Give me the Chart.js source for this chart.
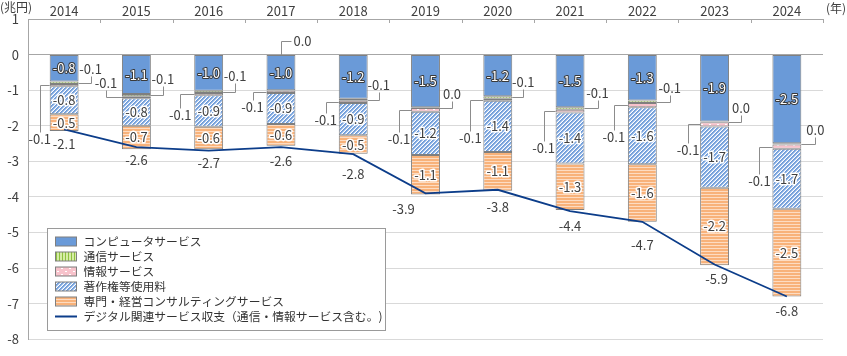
<!DOCTYPE html>
<html><head><meta charset="utf-8">
<script src="https://cdn.jsdelivr.net/npm/chart.js@4.4.1/dist/chart.umd.min.js"></script>
<style>html,body{margin:0;padding:0;background:#fff;}</style>
</head><body>
<canvas id="c" width="847" height="356"></canvas>
<script>
// ---- data ----
const years = ['2014','2015','2016','2017','2018','2019','2020','2021','2022','2023','2024'];
const computerServices       = [-0.76,-1.11,-1.02,-1.00,-1.24,-1.48,-1.17,-1.48,-1.29,-1.88,-2.49];
const communicationServices  = [-0.07,-0.06,-0.06,-0.02,-0.06,-0.02,-0.07,-0.07,-0.07,-0.02,-0.04];
const informationServices    = [-0.06,-0.06,-0.06,-0.06,-0.06,-0.11,-0.06,-0.08,-0.12,-0.12,-0.12];
const copyrightRoyalties     = [-0.79,-0.77,-0.89,-0.87,-0.91,-1.21,-1.44,-1.43,-1.60,-1.72,-1.68];
const professionalConsulting = [-0.47,-0.66,-0.63,-0.61,-0.52,-1.11,-1.09,-1.31,-1.62,-2.18,-2.47];
const digitalBalance         = [-2.1,-2.6,-2.7,-2.6,-2.8,-3.9,-3.8,-4.4,-4.7,-5.9,-6.8];
const yTickValues = [1,0,-1,-2,-3,-4,-5,-6,-7,-8];
const seriesNames = ['コンピュータサービス','通信サービス','情報サービス','著作権等使用料','専門・経営コンサルティングサービス','デジタル関連サービス収支（通信・情報サービス含む。)'];

// ---- label placement (pixel offsets, style only) ----
const commCallout = [[12,-14],[12,-16],[12,-16],[21,-14,'top'],[11,-15],[12,-14],[11,-15],[13,-15],[13,-14],[12,-14],[14,-14]];
const infoCallout = [[-10,54],[-16,-14],[-14,21],[-14,15],[-13,18],[-12,29],[-13,38],[-12,37],[-14,32],[-12,26],[-13,34]];
const lineLabelOffset = [[0,15],[0,13],[0,12],[0,14],[0,20],[-22,16],[0,17],[0,15],[0,23],[2,15],[0,15]];

const FONT = '"Noto Sans CJK JP","Noto Sans",sans-serif';
const TXT = '#404040';
const GRAYLINE = '#a6a6a6';
const LINECOLOR = '#0c3d8a';

const canvas = document.getElementById('c');
const mctx = canvas.getContext('2d');
function tile(w,h,draw){const c=document.createElement('canvas');c.width=w;c.height=h;const g=c.getContext('2d');draw(g);return mctx.createPattern(c,'repeat');}
const blueFill = '#6a9ad8';
const commPat = tile(3,1,g=>{g.fillStyle='#d6eca6';g.fillRect(0,0,3,1);g.fillStyle='#8fc13f';g.fillRect(2,0,1,1);});
const infoPat = tile(8,6,g=>{g.fillStyle='#f7c2cb';g.fillRect(0,0,8,6);g.fillStyle='#ffffff';g.fillRect(1,1,2,1);g.fillRect(5,4,2,1);});
const copyCols = ['#6f9bd8','#7ea8de','#b9cff0','#ffffff'];
const copyPat = tile(4,4,g=>{for(let x=0;x<4;x++)for(let y=0;y<4;y++){g.fillStyle=copyCols[(x+y)%4];g.fillRect(x,y,1,1);}});
const profPat = tile(1,3,g=>{g.fillStyle='#f8b27a';g.fillRect(0,0,1,2);g.fillStyle='#fddcc2';g.fillRect(0,2,1,1);});
const fills = [blueFill, commPat, infoPat, copyPat, profPat];

const fmt = v => { const r = Math.sign(v)*Math.round(Math.abs(v)*10+1e-9)/10; return (r===0?0:r).toFixed(1); };

function barDs(label, data, fill){
  return {type:'bar', label, data, backgroundColor:fill, borderColor:'#7f7f7f', borderWidth:1,
    borderSkipped:false, stack:'s', order:1, categoryPercentage:1, barPercentage:0.4};
}

const overlay = {
  id:'overlay',
  afterDatasetsDraw(chart){
    const ctx = chart.ctx, area = chart.chartArea;
    ctx.save();
    const n = years.length, cw = (area.right-area.left)/n;
    ctx.strokeStyle = GRAYLINE; ctx.lineWidth = 1; ctx.beginPath();
    for(let i=0;i<=n;i++){const x=Math.round(area.left+i*cw)+0.5; ctx.moveTo(x,area.top); ctx.lineTo(x,area.top+4);}
    ctx.stroke();

    ctx.font = '13px '+FONT; ctx.textAlign='center'; ctx.textBaseline='middle'; ctx.lineJoin='round';
    [0,3,4].forEach(di=>{
      const meta = chart.getDatasetMeta(di);
      meta.data.forEach((el,i)=>{
        const t = fmt(chart.data.datasets[di].data[i]);
        const cx = el.x, cy = (el.y+el.base)/2;
        if(di===0){ctx.lineWidth=2;ctx.strokeStyle='#3a3a3a';ctx.strokeText(t,cx,cy);ctx.fillStyle='#ffffff';ctx.fillText(t,cx,cy);}
        else{ctx.lineWidth=3;ctx.strokeStyle='#ffffff';ctx.strokeText(t,cx,cy);ctx.fillStyle=TXT;ctx.fillText(t,cx,cy);}
      });
    });
    const mTop = chart.getDatasetMeta(0), mC = chart.getDatasetMeta(1), mI = chart.getDatasetMeta(2);
    ctx.strokeStyle='#8c8c8c'; ctx.lineWidth=1;
    years.forEach((y,i)=>{
      {
        const el = mC.data[i]; const [dx,dy,mode] = commCallout[i];
        const t = fmt(communicationServices[i]); const tw = ctx.measureText(t).width;
        ctx.beginPath();
        let lx, ly;
        if(mode==='top'){
          const ax = Math.round(el.x)+0.5, ay = mTop.data[i].base;
          lx = ax+dx; ly = ay+dy;
          ctx.moveTo(ax,ay); ctx.lineTo(ax,Math.round(ly)+0.5); ctx.lineTo(lx-tw/2-2,Math.round(ly)+0.5);
        } else {
          const ax = el.x+el.width/2, ay = Math.round((el.y+el.base)/2)+0.5;
          lx = ax+dx; ly = ay+dy; const ex = Math.round(lx)+0.5;
          ctx.moveTo(ax,ay); ctx.lineTo(ex,ay); ctx.lineTo(ex, ly+(dy<0?7:-7));
        }
        ctx.stroke();
        ctx.fillStyle=TXT; ctx.fillText(t,lx,ly);
      }
      {
        const el = mI.data[i]; const [dx,dy] = infoCallout[i];
        const t = fmt(informationServices[i]);
        const ax = el.x-el.width/2, ay = Math.round((el.y+el.base)/2)+0.5;
        const lx = ax+dx, ly = ay+dy; const ex = Math.round(lx)+0.5;
        ctx.beginPath(); ctx.moveTo(ax,ay); ctx.lineTo(ex,ay); ctx.lineTo(ex, ly+(dy<0?7:-7)); ctx.stroke();
        ctx.fillStyle=TXT; ctx.fillText(t,lx,ly);
      }
    });
    const mL = chart.getDatasetMeta(5);
    mL.data.forEach((pt,i)=>{
      const [dx,dy] = lineLabelOffset[i];
      ctx.fillStyle=TXT; ctx.fillText(fmt(digitalBalance[i]), pt.x+dx, pt.y+dy);
    });
    ctx.restore();
  },
  afterDraw(chart){
    const ctx = chart.ctx;
    ctx.save();
    ctx.fillStyle=TXT; ctx.font='12px '+FONT; ctx.textBaseline='middle';
    ctx.textAlign='left'; ctx.fillText('(兆円)',0,7);
    ctx.textAlign='right'; ctx.fillText('(年)',846,8);
    const L=47.5, T=228.5, R=385.5, B=330.5;
    ctx.fillStyle='#ffffff'; ctx.fillRect(L,T,R-L,B-T);
    ctx.strokeStyle='#9a9a9a'; ctx.lineWidth=1; ctx.strokeRect(L,T,R-L,B-T);
    ctx.font='11.8px '+FONT; ctx.textAlign='left';
    seriesNames.forEach((name,k)=>{
      const cy = 241.5 + k*15;
      if(k<5){
        ctx.fillStyle=fills[k]; ctx.fillRect(55.5,cy-4.5,21,9);
        ctx.strokeStyle='#7f7f7f'; ctx.strokeRect(55.5,cy-4.5,21,9);
      } else {
        ctx.strokeStyle=LINECOLOR; ctx.lineWidth=2; ctx.beginPath(); ctx.moveTo(55,cy); ctx.lineTo(77,cy); ctx.stroke(); ctx.lineWidth=1;
      }
      ctx.fillStyle='#333333'; ctx.fillText(name,83.5,cy);
    });
    ctx.restore();
  }
};

new Chart(canvas, {
  data:{
    labels: years,
    datasets:[
      barDs(seriesNames[0], computerServices, fills[0]),
      barDs(seriesNames[1], communicationServices, fills[1]),
      barDs(seriesNames[2], informationServices, fills[2]),
      barDs(seriesNames[3], copyrightRoyalties, fills[3]),
      barDs(seriesNames[4], professionalConsulting, fills[4]),
      {type:'line', label:seriesNames[5], data:digitalBalance, borderColor:LINECOLOR, borderWidth:1.8,
       pointRadius:0, tension:0, stack:'line', order:0, fill:false}
    ]
  },
  options:{
    responsive:false, animation:false, devicePixelRatio:1,
    layout:{padding:{left:0,right:24,top:0,bottom:7}},
    plugins:{legend:{display:false}, tooltip:{enabled:false}},
    scales:{
      x:{position:'top', stacked:true, offset:true,
         grid:{display:false, drawTicks:false},
         border:{display:true,color:GRAYLINE,width:1},
         ticks:{padding:0,color:TXT,font:{family:FONT,size:13,weight:'normal'}},
         afterFit(s){s.height=19;}},
      y:{stacked:true, min:-8, max:1,
         afterBuildTicks(s){s.ticks = yTickValues.map(v=>({value:v}));},
         grid:{drawTicks:false, color:c=>c.tick && c.tick.value===0 ? GRAYLINE : '#d9d9d9', lineWidth:1},
         border:{display:true,color:GRAYLINE,width:1},
         ticks:{padding:9,color:TXT,font:{family:FONT,size:13},callback:v=>String(v)},
         afterFit(s){s.width=28;}}
    }
  },
  plugins:[overlay]
});
</script>
</body></html>
